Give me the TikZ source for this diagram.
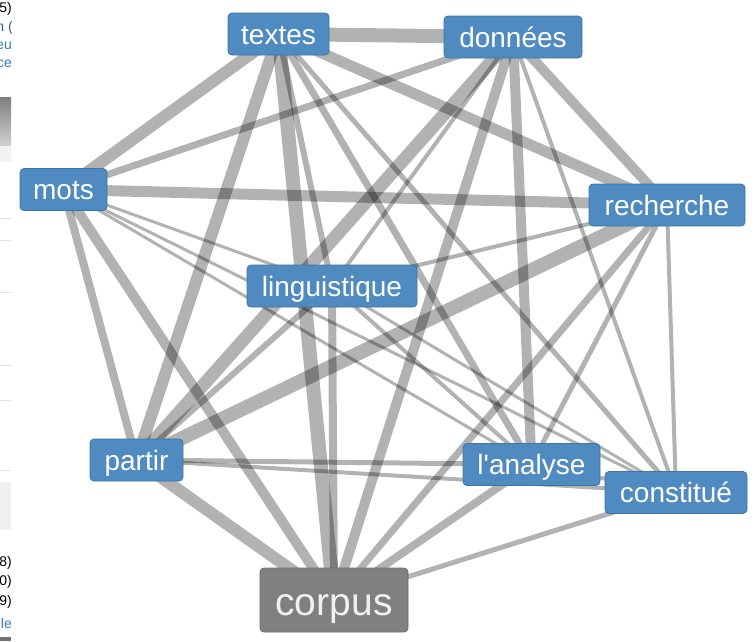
\documentclass[tikz,border=0pt]{standalone}
\usepackage{fontspec}
\setmainfont{Liberation Sans}
\newfontfamily\labelfont{Liberation Sans}
\definecolor{nodeblue}{HTML}{4F8BC0}
\definecolor{nodeborder}{HTML}{3F74A3}
\definecolor{corpusgray}{HTML}{808080}
\definecolor{linkblue}{HTML}{337AB7}
\begin{document}
\begin{tikzpicture}[x=1pt,y=-1pt,
  link/.style={draw=black,draw opacity=0.3},
  term/.style={rectangle, rounded corners=4pt, fill=nodeblue, draw=nodeborder, line width=0.8pt,
    text=white, font=\labelfont\fontsize{28}{28}\selectfont, minimum height=42pt, inner sep=0pt,
    text height=26pt, text depth=6pt},
  bigterm/.style={term, fill=corpusgray, draw=corpusgray!85!black, text=white!94!black,
    font=\labelfont\fontsize{39}{39}\selectfont, minimum height=64pt, text height=37pt, text depth=7pt},
  frag/.style={anchor=base east, inner sep=0pt, font=\fontsize{14}{14}\selectfont}
]
\useasboundingbox (0,0) rectangle (756,641);

% left strip of the cut-off page
\begin{scope}
  \clip (0,0) rectangle (11,641);
  \shade[top color=black!50, bottom color=black!18] (0,97) rectangle (11,146);
  \fill[black!5] (0,146) rectangle (11,162);
  \foreach \yy in {218,240,292,365,400,470}{\draw[black!12] (0,\yy) -- (11,\yy);}
  \fill[black!6] (0,482) rectangle (11,530);
  \fill[black!55] (0,637) rectangle (11,641);
  \node[frag] at (12,12) {(5)};
  \node[frag, text=linkblue!80!black] at (13,31) {n (};
  \node[frag, text=linkblue] at (12,49) {eu};
  \node[frag, text=linkblue] at (12,67) {ce};
  \node[frag] at (12,566) {(8)};
  \node[frag] at (12,585) {(0)};
  \node[frag] at (12,605) {(9)};
  \node[frag, text=linkblue] at (12,628) {le};
\end{scope}

% node centres
\coordinate (ct) at (278.5,34);
\coordinate (cd) at (513,37);
\coordinate (cm) at (63.5,189.5);
\coordinate (cr) at (667,205);
\coordinate (cl) at (332,286);
\coordinate (cp) at (136.5,460);
\coordinate (ca) at (531.5,464.5);
\coordinate (cc) at (676,492.5);
\coordinate (co) at (334,600);

% links
\foreach \a/\b/\w in {
  ct/cd/14, ct/cm/12, ct/cr/11, ct/cp/12, ct/co/14, ct/cl/6, ct/ca/7, ct/cc/5,
  cd/cm/7, cd/cr/10, cd/cp/13, cd/cl/4, cd/co/10, cd/ca/10, cd/cc/4,
  cm/cr/11, cm/cl/3, cm/cp/8, cm/co/10, cm/ca/3, cm/cc/3,
  cr/cl/4, cr/cp/14, cr/co/7, cr/ca/5, cr/cc/4,
  cl/cp/6, cl/co/8, cl/ca/4, cl/cc/3,
  cp/ca/5, cp/cc/4, cp/co/12,
  ca/co/8, ca/cc/4, cc/co/5}
  {\draw[link, line width=\w pt] (\a) -- (\b);}

\node[term, minimum width=101pt] (textes) at (ct) {textes};
\node[term, minimum width=138pt] (donnees) at (cd) {données};
\node[term, minimum width=87pt] (mots) at (cm) {mots};
\node[term, minimum width=156pt] (recherche) at (cr) {recherche};
\node[term, minimum width=170pt] (linguistique) at (cl) {linguistique};
\node[term, minimum width=93pt] (partir) at (cp) {partir};
\node[term, minimum width=137pt] (analyse) at (ca) {l'analyse};
\node[term, minimum width=142pt] (constitue) at (cc) {constitué};
\node[bigterm, minimum width=148pt] (corpus) at (co) {corpus};
\end{tikzpicture}
\end{document}
